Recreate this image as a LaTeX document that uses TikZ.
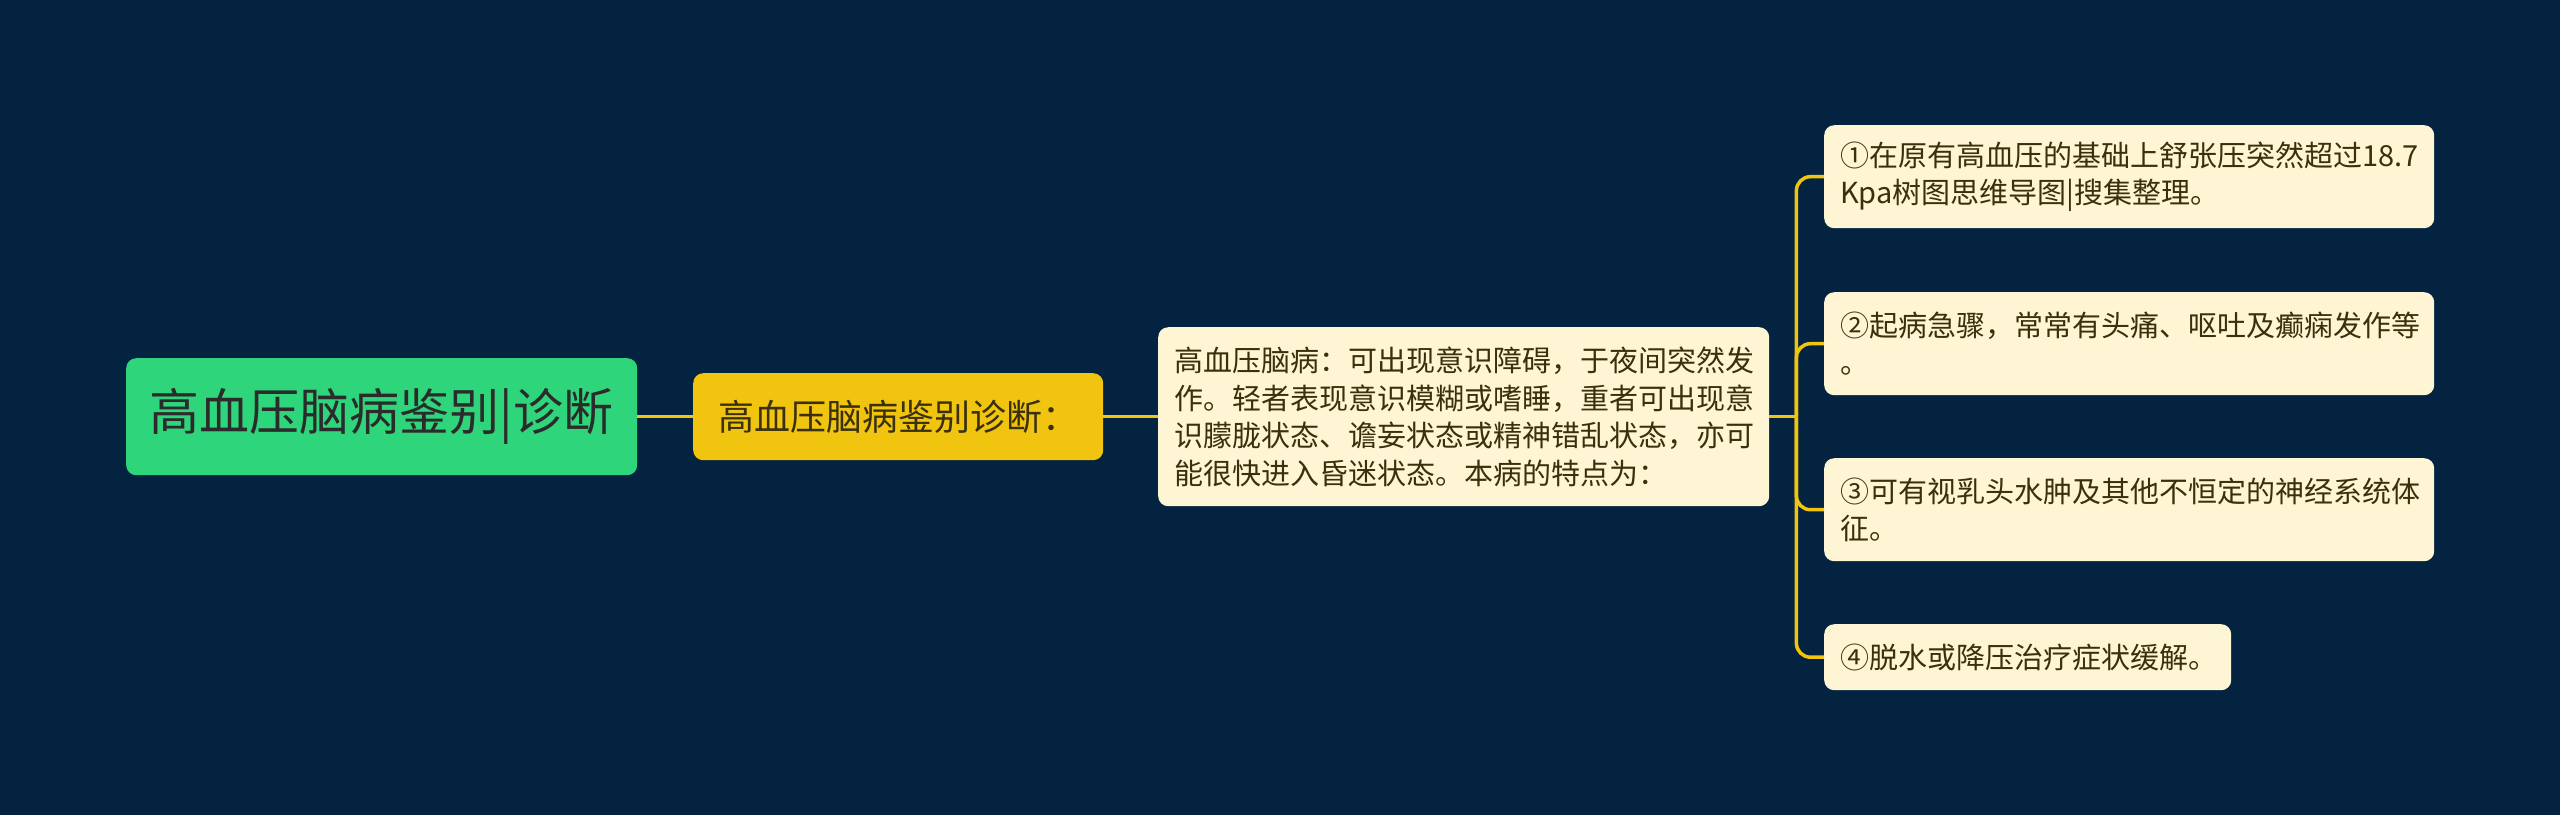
\documentclass[tikz,border=0pt]{standalone}
\usepackage{fontspec}
\setmainfont{Noto Sans CJK SC}
\usetikzlibrary{positioning}

\definecolor{bgnavy}{HTML}{032341}
\definecolor{rootgreen}{HTML}{2FD57B}
\definecolor{subyellow}{HTML}{F0C40F}
\definecolor{leafcream}{HTML}{FDF5D3}
\definecolor{inkdark}{HTML}{2B2B2B}
\definecolor{inkbrown}{HTML}{3A300C}

\tikzset{
  rootbox/.style={draw=none, fill=rootgreen, rounded corners=10pt, anchor=north west,
    text=inkdark, font=\fontsize{50}{58}\selectfont, inner sep=0pt},
  subbox/.style={draw=none, fill=subyellow, rounded corners=10pt, anchor=north west,
    text=inkbrown, font=\fontsize{36}{42}\selectfont, inner sep=0pt},
  leafbox/.style={draw=none, fill=leafcream, rounded corners=10pt, anchor=north west,
    text=inkbrown, font=\fontsize{29}{37.5}\selectfont, align=left,
    inner xsep=16pt, inner ysep=0pt},
  link/.style={draw=subyellow, line width=3.5pt},
}

\begin{document}
\begin{tikzpicture}[x=1pt,y=-1pt]
  \fill[bgnavy] (0,0) rectangle (2560,815);
  \useasboundingbox (0,0) rectangle (2560,815);

  \node[rootbox, minimum width=511pt, minimum height=117pt] (root) at (126,358) {高血压脑病鉴别|诊断};
  \node[subbox, minimum width=410pt, minimum height=87pt] (diag) at (693,373) {高血压脑病鉴别诊断：};
  \node[leafbox, text width=579pt, inner xsep=16pt, minimum height=179pt] (desc) at (1158,327)
    {高血压脑病：可出现意识障碍，于夜间突然发\\作。轻者表现意识模糊或嗜睡，重者可出现意\\识朦胧状态、谵妄状态或精神错乱状态，亦可\\能很快进入昏迷状态。本病的特点为：};

  \node[leafbox, text width=578pt, minimum height=103pt] (feat1) at (1824,125)
    {①在原有高血压的基础上舒张压突然超过18.7\\Kpa树图思维导图|搜集整理。};
  \node[leafbox, text width=578pt, minimum height=103pt] (feat2) at (1824,292)
    {②起病急骤，常常有头痛、呕吐及癫痫发作等\\。};
  \node[leafbox, text width=578pt, minimum height=103pt] (feat3) at (1824,458)
    {③可有视乳头水肿及其他不恒定的神经系统体\\征。};
  \node[leafbox, text width=375pt, minimum height=66pt] (feat4) at (1824,624)
    {④脱水或降压治疗症状缓解。};

  \draw[link] (root.east) -- (diag.west);
  \draw[link] (diag.east) -- (desc.west);
  \coordinate (fork) at ([xshift=27pt]desc.east);
  \draw[link] (desc.east) -- (fork);
  \foreach \leaf in {feat1,feat2,feat3,feat4}
    \draw[link, rounded corners=14pt] (fork) |- (\leaf.west);
\end{tikzpicture}
\end{document}
